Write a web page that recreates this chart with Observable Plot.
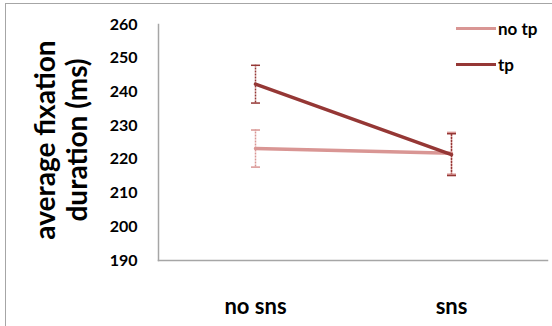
<!DOCTYPE html>
<html><head><meta charset="utf-8">
<script src="https://cdn.jsdelivr.net/npm/d3@7"></script>
<script src="https://cdn.jsdelivr.net/npm/@observablehq/plot@0.6"></script>
<style>
html,body{margin:0;padding:0;background:#fff;overflow:hidden;}
#wrap{position:relative;width:552px;height:326px;overflow:hidden;}
#border{position:absolute;left:5px;top:3px;width:600px;height:400px;border:1px solid #a6a6a6;}
#chart{position:absolute;left:0;top:0;}
#legend{position:absolute;left:456px;top:18px;font-family:Lato;font-weight:bold;font-size:17px;color:#000;}
.item{display:flex;align-items:center;height:20px;margin-bottom:16px;}
.sw{width:40px;height:3px;margin-right:2px;}
#ytitle{position:absolute;left:60px;top:140px;width:260px;transform:translate(-50%,-50%) rotate(-90deg);
  font-family:Lato;font-weight:bold;font-size:28px;line-height:32px;text-align:center;color:#000;white-space:pre;}
</style>
</head><body>
<div id="wrap"><div id="border"></div><div id="chart"></div><div id="legend"></div><div id="ytitle"></div></div>
<script>
const conditions = ["no sns", "sns"];
const seriesNames = ["no tp", "tp"];
const seriesColors = ["#D99694", "#953735"];
const noTpValues = [223.2, 221.8];
const noTpErrors = [5.5, 6.2];
const tpValues = [242.3, 221.4];
const tpErrors = [5.6, 6.2];
const yTicks = [190, 200, 210, 220, 230, 240, 250, 260];
const yTitle = "average fixation\nduration (ms)";

const rows = [];
[[noTpValues, noTpErrors], [tpValues, tpErrors]].forEach(([vals, errs], s) => {
  conditions.forEach((c, i) => rows.push({series: seriesNames[s], cond: c, value: vals[i], lo: vals[i] - errs[i], hi: vals[i] + errs[i]}));
});

// horizontal cap symbol for error bars
const capSymbol = {draw(ctx, size) { const w = Math.sqrt(size / Math.PI); ctx.moveTo(-w, 0); ctx.lineTo(w, 0); }};

const chart = Plot.plot({
  width: 552, height: 326,
  marginLeft: 158, marginRight: 5, marginTop: 24, marginBottom: 66,
  style: {fontFamily: "Lato", fontWeight: "bold", color: "#000", background: "transparent", overflow: "visible"},
  x: {type: "point", domain: conditions, padding: 0.49, label: null},
  y: {domain: [190, 260], label: null},
  color: {domain: seriesNames, range: seriesColors},
  marks: [
    Plot.axisY({ticks: yTicks, tickSize: 0, tickPadding: 21, fontSize: 16, label: null}),
    Plot.axisX({tickSize: 0, tickPadding: 38, fontSize: 22, label: null}),
    Plot.frame({anchor: "left", stroke: "#a6a6a6", strokeWidth: 1.5}),
    Plot.frame({anchor: "bottom", stroke: "#a6a6a6", strokeWidth: 1.5}),
    Plot.ruleX(rows, {x: "cond", y1: "lo", y2: "hi", stroke: "series", strokeWidth: 1.5, strokeDasharray: "2,1"}),
    Plot.dot(rows, {x: "cond", y: "lo", symbol: capSymbol, r: 4.5, stroke: "series", fill: "none", strokeWidth: 1.5}),
    Plot.dot(rows, {x: "cond", y: "hi", symbol: capSymbol, r: 4.5, stroke: "series", fill: "none", strokeWidth: 1.5}),
    Plot.line(rows, {x: "cond", y: "value", z: "series", stroke: "series", strokeWidth: 3.5})
  ]
});
document.getElementById("chart").appendChild(chart);
document.getElementById("ytitle").textContent = yTitle;

const legend = document.getElementById("legend");
seriesNames.forEach((name, i) => {
  const it = document.createElement("div");
  it.className = "item";
  const sw = document.createElement("div");
  sw.className = "sw";
  sw.style.background = seriesColors[i];
  const t = document.createElement("span");
  t.textContent = name;
  it.appendChild(sw); it.appendChild(t);
  legend.appendChild(it);
});
</script>
</body></html>
